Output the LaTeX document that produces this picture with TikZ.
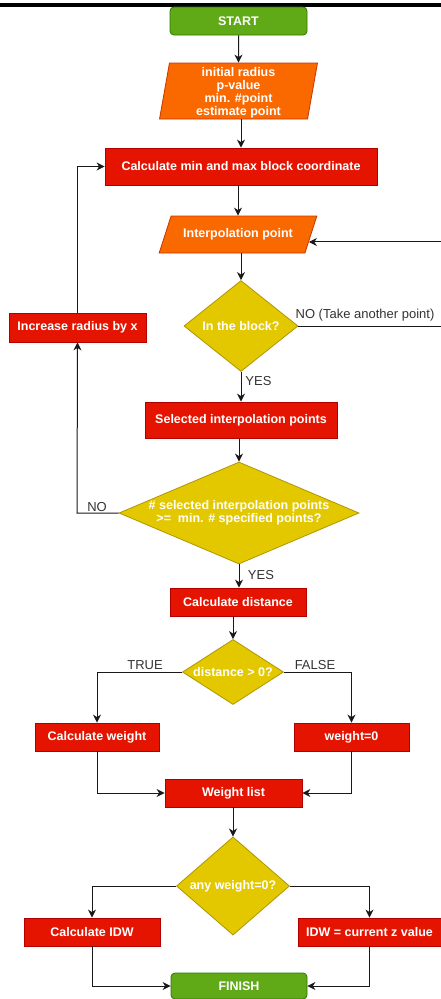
\documentclass[tikz,border=0pt]{standalone}
\usepackage{fontspec}
\setmainfont{Liberation Sans}
\usetikzlibrary{shapes.geometric,arrows.meta,calc}
\definecolor{gfill}{HTML}{60A917}
\definecolor{gstroke}{HTML}{2D7600}
\definecolor{ofill}{HTML}{FA6800}
\definecolor{ostroke}{HTML}{C73500}
\definecolor{rfill}{HTML}{E51400}
\definecolor{rstroke}{HTML}{B20000}
\definecolor{yfill}{HTML}{E3C800}
\definecolor{ystroke}{HTML}{B09500}
\definecolor{lblc}{HTML}{333333}
\begin{document}
\begin{tikzpicture}[x=1pt,y=-1pt,
  base/.style={font=\fontsize{12.5}{13}\selectfont\bfseries, text=white, inner sep=0pt, align=center, line width=0.8pt},
  box/.style={base, rectangle, draw=rstroke, fill=rfill},
  term/.style={base, rectangle, rounded corners=4pt, draw=gstroke, fill=gfill},
  para/.style={base, trapezium, trapezium stretches=true, draw=ostroke, fill=ofill},
  dia/.style={base, diamond, draw=ystroke, fill=yfill},
  txt/.style={base, draw=none, fill=none},
  lbl/.style={font=\fontsize{13}{15}\selectfont, text=lblc, inner sep=0pt},
  arr/.style={draw=black!90, line width=1pt, -{Stealth[length=8pt,width=8pt,inset=2.5pt]}}]
\useasboundingbox (0,0) rectangle (441,999);
\fill[black] (0,2.5) rectangle (441,6.5);

\node[term, minimum width=137, minimum height=28] (start) at (238.5,21) {START};
\node[para, trapezium left angle=60, trapezium right angle=120, minimum width=159, minimum height=56] (param) at (238.5,91) {\phantom{initial radius}};
\node[txt] (paramtxt) at (238.5,92.5) {initial radius\\p-value\\min. \#point\\estimate point};
\node[box, minimum width=272, minimum height=37] (calc) at (241,166.5) {Calculate min and max block coordinate};
\node[para, trapezium left angle=50, trapezium right angle=130, minimum width=158, minimum height=37] (ip) at (238,234.5) {Interpolation point};
\node[dia, minimum width=114, minimum height=91] (d1) at (241,326) {In the block?};
\node[box, minimum width=137, minimum height=29] (inc) at (77.5,327.5) {Increase radius by x};
\node[box, minimum width=192, minimum height=36] (sel) at (241,420) {Selected interpolation points};
\node[dia, minimum width=240, minimum height=102, shape aspect=2.35] (d2) at (239,513) {\# selected interpolation points\\>=\ \ min. \# specified points?};
\node[box, minimum width=136, minimum height=28] (cd) at (238,602) {Calculate distance};
\node[dia, minimum width=101, minimum height=65, shape aspect=1.55] (d3) at (233,672) {distance > 0?};
\node[box, minimum width=124, minimum height=28] (cw) at (97,737) {Calculate weight};
\node[box, minimum width=115, minimum height=28] (w0) at (351.5,737) {weight=0};
\node[box, minimum width=137, minimum height=28] (wl) at (233.5,793) {Weight list};
\node[dia, minimum width=113, minimum height=83] (d4) at (233,886) {any weight=0?};
\node[box, minimum width=136, minimum height=28] (ci) at (92,932) {Calculate IDW};
\node[box, minimum width=143, minimum height=28] (idw) at (369.5,932) {IDW = current z value};
\node[term, minimum width=136, minimum height=26] (fin) at (239,986) {FINISH};

\coordinate (rc) at (441,326);
\coordinate (lc) at (77,513);

\draw[arr] (start.south) -- (param.north);
\draw[arr] (param.south -| calc.north) -- (calc.north);
\draw[arr] (calc.south -| ip.north) -- (ip.north);
\draw[arr] (ip.south -| d1.north) -- (d1.north);
\draw[arr] (d1.south) -- (d1.south |- sel.north);
\draw[arr] (d1.east) -- (rc) (rc |- ip.-6) -- (ip.-6);
\draw[arr] (sel.south -| d2.north) -- (d2.north);
\draw[arr] (d2.west) -- (lc) -- (inc.south);
\draw[arr] (inc.north) |- (calc.west);
\draw[arr] (d2.south) -- (d2.south |- cd.north);
\draw[arr] (cd.south -| d3.north) -- (d3.north);
\draw[arr] (d3.west) -| (cw.north);
\draw[arr] (d3.east) -| (w0.north);
\draw[arr] (cw.south) |- (wl.west);
\draw[arr] (w0.south) |- (wl.east);
\draw[arr] (wl.south -| d4.north) -- (d4.north);
\draw[arr] (d4.west) -| (ci.north);
\draw[arr] (d4.east) -| (idw.north);
\draw[arr] (ci.south) |- (fin.west);
\draw[arr] (idw.south) |- (fin.east);

\node[lbl] (l1) at (365,315) {NO (Take another point)};
\node[lbl] (l2) at (258.5,381) {YES};
\node[lbl] (l3) at (97,507) {NO};
\node[lbl] (l4) at (261,575) {YES};
\node[lbl] (l5) at (145,665) {TRUE};
\node[lbl] (l6) at (315,665) {FALSE};
\end{tikzpicture}
\end{document}
